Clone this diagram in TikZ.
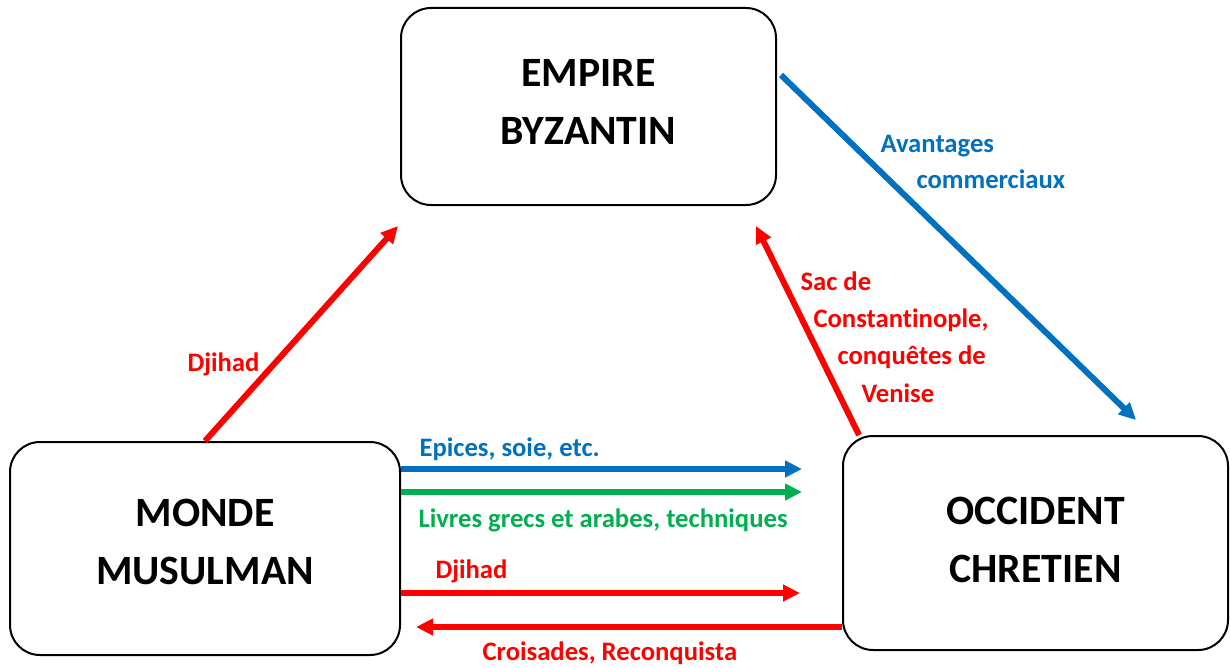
\documentclass[tikz,border=0pt]{standalone}
\usepackage{fontspec}
\setmainfont{Carlito}[RawFeature=-liga]
\usetikzlibrary{arrows.meta}

\definecolor{flowblue}{RGB}{0,112,192}
\definecolor{flowred}{RGB}{255,0,0}
\definecolor{flowgreen}{RGB}{0,176,80}

\tikzset{every picture/.style={line width=0.75pt}}
\tikzset{
  region/.style={draw=black, line width=1.5pt, rounded corners=22.5pt, align=center, inner sep=0pt,
    font=\fontsize{31.3}{43.5}\selectfont\bfseries},
  flow/.style={line width=4.5pt, -{Triangle[length=12.75pt,width=12pt]}},
  lbl/.style={anchor=base west, inner sep=0pt, font=\fontsize{20}{27.75}\selectfont\bfseries},
}

\begin{document}
\begin{tikzpicture}[x=0.75pt,y=0.75pt,yscale=-1,xscale=1]
	\useasboundingbox (0,0) rectangle (1230,667);

	%Shape: Rounded Rect [id:empire]
	\node [region, minimum width=281.25pt, minimum height=147.75pt, text depth=7.5pt] (empire) at (588.5,106.5) {EMPIRE\\BYZANTIN};
	%Shape: Rounded Rect [id:monde]
	\node [region, minimum width=292.5pt, minimum height=159.75pt, text depth=10.5pt] (monde) at (205,548.5) {MONDE\\MUSULMAN};
	%Shape: Rounded Rect [id:occident]
	\node [region, minimum width=288.75pt, minimum height=160.5pt, text depth=4.5pt] (occident) at (1035.5,543) {OCCIDENT\\CHRETIEN};

	% free ends of the arrows
	\coordinate (djA) at (398,226);
	\coordinate (avA) at (781,75);
	\coordinate (avB) at (1136,420);
	\coordinate (scB) at (756,226);
	\coordinate (epB) at (802,469);
	\coordinate (lvB) at (802,492);
	\coordinate (dhB) at (800,593);
	\coordinate (crB) at (416,627);

	%Straight Lines [id:djihad up]
	\draw [flow, flowred] (monde.north) -- (djA) ;
	%Straight Lines [id:avantages]
	\draw [flow, flowblue] (avA) -- (avB) ;
	%Straight Lines [id:sac]
	\draw [flow, flowred] ([xshift=12.75pt]occident.north west) -- (scB) ;
	%Straight Lines [id:epices]
	\draw [flow, flowblue] (monde.east |- epB) -- (epB) ;
	%Straight Lines [id:livres]
	\draw [flow, flowgreen] (monde.east |- lvB) -- (lvB) ;
	%Straight Lines [id:djihad right]
	\draw [flow, flowred] (monde.east |- dhB) -- (dhB) ;
	%Straight Lines [id:croisades]
	\draw [flow, flowred] (occident.west |- crB) -- (crB) ;

	% Text Node
	\node [lbl, flowred] (tdjA) at (187,371) {Djihad};
	% Text Node
	\node [lbl, flowblue] (tavA) at (880,152) {Avantages};
	\node [lbl, flowblue] (tavB) at (916,188) {commerciaux};
	% Text Node
	\node [lbl, flowred] (tscA) at (800,290) {Sac de};
	\node [lbl, flowred] (tscB) at (813,327) {Constantinople,};
	\node [lbl, flowred] (tscC) at (837,364) {conquêtes de};
	\node [lbl, flowred] (tscD) at (861,402) {Venise};
	% Text Node
	\node [lbl, flowblue] (tep) at (419,456) {Epices, soie, etc.};
	% Text Node
	\node [lbl, flowgreen] (tlv) at (418,527) {Livres grecs et arabes, techniques};
	% Text Node
	\node [lbl, flowred] (tdh) at (435,578) {Djihad};
	% Text Node
	\node [lbl, flowred] (tcr) at (482,660) {Croisades, Reconquista};

\end{tikzpicture}
\end{document}
